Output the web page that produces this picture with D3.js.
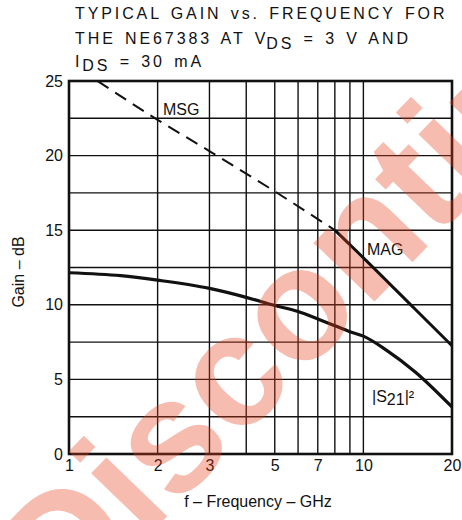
<!DOCTYPE html>
<html>
<head>
<meta charset="utf-8">
<script src="https://cdn.jsdelivr.net/npm/d3@7"></script>
<style>
  body { margin: 0; background: #fff; }
  svg { display: block; font-family: "Liberation Sans", Arial, sans-serif; }
</style>
</head>
<body>
<div id="chart"></div>
<script>
// values (f in GHz, gain in dB)
const s21Freq = [1, 1.5, 2, 3, 4, 5, 6, 7, 8, 9, 10, 12, 15, 20];
const s21Gain = [12.15, 11.95, 11.65, 11.1, 10.5, 9.95, 9.55, 9.05, 8.6, 8.2, 7.9, 6.95, 5.5, 3.15];
const magFreq = [8, 10, 15, 20];
const magGain = [15.0, 13.15, 9.7, 7.25];
const msgFreq = [1.25, 2, 3, 5, 8];
const msgGain = [25, 22.4, 20.3, 17.6, 15.0];

const xTicks = [1, 2, 3, 5, 7, 10, 20];
const yTicks = [0, 5, 10, 15, 20, 25];
const xGrid = [1, 2, 3, 4, 5, 6, 7, 8, 9, 10, 20];
const yGrid = [0, 2.5, 5, 7.5, 10, 12.5, 15, 17.5, 20, 22.5, 25];

const width = 462;
const height = 520;
const margin = {top: 81, right: 10, bottom: 66, left: 69};

const svg = d3.select('#chart')
    .append('svg')
    .attr('width', width)
    .attr('height', height);

svg.append('rect').attr('width', width).attr('height', height).attr('fill', '#fff');

const x = d3.scaleLog()
    .domain([1, 20])
    .range([margin.left, width - margin.right]);

const y = d3.scaleLinear()
    .domain([0, 25])
    .range([height - margin.bottom, margin.top]);

// title, three lines
const title = svg.append('g')
    .attr('font-size', 16)
    .attr('letter-spacing', '2.9px')
    .attr('word-spacing', '2px')
    .attr('fill', '#111');
title.append('text').attr('x', 75).attr('y', 19).text('TYPICAL GAIN vs. FREQUENCY FOR');
const t2 = title.append('text').attr('x', 75).attr('y', 44);
t2.append('tspan').text('THE NE67383 AT V');
t2.append('tspan').attr('dy', 5).attr('dx', -2).text('DS');
t2.append('tspan').attr('dy', -5).text(' = 3 V AND');
const t3 = title.append('text').attr('x', 75).attr('y', 67);
t3.append('tspan').text('I');
t3.append('tspan').attr('dy', 4).text('DS');
t3.append('tspan').attr('dy', -4).text(' = 30 mA');

// grid
const grid = svg.append('g').attr('stroke', '#111').attr('stroke-width', 1.4);
grid.selectAll('line.v')
    .data(xGrid)
    .enter()
    .append('line')
        .attr('class', 'v')
        .attr('x1', d => x(d)).attr('x2', d => x(d))
        .attr('y1', y(0)).attr('y2', y(25));
grid.selectAll('line.h')
    .data(yGrid)
    .enter()
    .append('line')
        .attr('class', 'h')
        .attr('x1', x(1)).attr('x2', x(20))
        .attr('y1', d => y(d)).attr('y2', d => y(d));

// frame
svg.append('rect')
    .attr('x', x(1)).attr('y', y(25))
    .attr('width', x(20) - x(1)).attr('height', y(0) - y(25))
    .attr('fill', 'none')
    .attr('stroke', '#111')
    .attr('stroke-width', 2.6);

// axes
function xAxis(g){
    g.attr('transform', `translate(0, ${y(0)})`)
        .call(d3.axisBottom(x).tickValues(xTicks).tickFormat(d3.format('d')).tickSize(0).tickPadding(6))
        .call(g => g.select('.domain').remove())
        .attr('font-size', 16)
        .attr('font-family', null)
        .selectAll('text').attr('fill', '#111');
}
function yAxis(g){
    g.attr('transform', `translate(${x(1)}, 0)`)
        .call(d3.axisLeft(y).tickValues(yTicks).tickSize(0).tickPadding(6))
        .call(g => g.select('.domain').remove())
        .attr('font-size', 16)
        .attr('font-family', null)
        .selectAll('text').attr('fill', '#111');
}
svg.append('g').call(xAxis);
svg.append('g').call(yAxis);

svg.append('text')
    .attr('x', 258).attr('y', 507)
    .attr('text-anchor', 'middle')
    .attr('font-size', 16)
    .attr('fill', '#111')
    .text('f \u2013 Frequency \u2013 GHz');

svg.append('text')
    .attr('transform', `translate(24, 272) rotate(-90)`)
    .attr('text-anchor', 'middle')
    .attr('font-size', 16)
    .attr('fill', '#111')
    .text('Gain \u2013 dB');

// curves
const line = d3.line()
    .x(d => x(d[0]))
    .y(d => y(d[1]))
    .curve(d3.curveMonotoneX);

svg.append('path')
    .datum(d3.zip(msgFreq, msgGain))
    .attr('d', line)
    .attr('fill', 'none')
    .attr('stroke', '#111')
    .attr('stroke-width', 2)
    .attr('stroke-dasharray', '13,8');

svg.append('path')
    .datum(d3.zip(magFreq, magGain))
    .attr('d', line)
    .attr('fill', 'none')
    .attr('stroke', '#111')
    .attr('stroke-width', 3);

svg.append('path')
    .datum(d3.zip(s21Freq, s21Gain))
    .attr('d', line)
    .attr('fill', 'none')
    .attr('stroke', '#111')
    .attr('stroke-width', 3.2);

// curve labels
const labels = svg.append('g').attr('font-size', 16).attr('fill', '#111');
labels.append('text').attr('x', 163).attr('y', 115).text('MSG');
labels.append('text').attr('x', 367).attr('y', 255).text('MAG');
const s21 = labels.append('text').attr('x', 372).attr('y', 402);
s21.append('tspan').attr('font-weight', 300).text('|S');
s21.append('tspan').attr('dy', 3).text('21');
s21.append('tspan').attr('dy', -3).text('|\u00b2');

// "Discontinued" stamp across the sheet
svg.append('text')
    .attr('transform', 'translate(64, 623) rotate(-46)')
    .attr('font-size', 160)
    .attr('font-weight', 'bold')
    .attr('fill', 'rgb(232, 62, 30)')
    .attr('fill-opacity', 0.35)
    .text('Discontinued');
</script>
</body>
</html>
